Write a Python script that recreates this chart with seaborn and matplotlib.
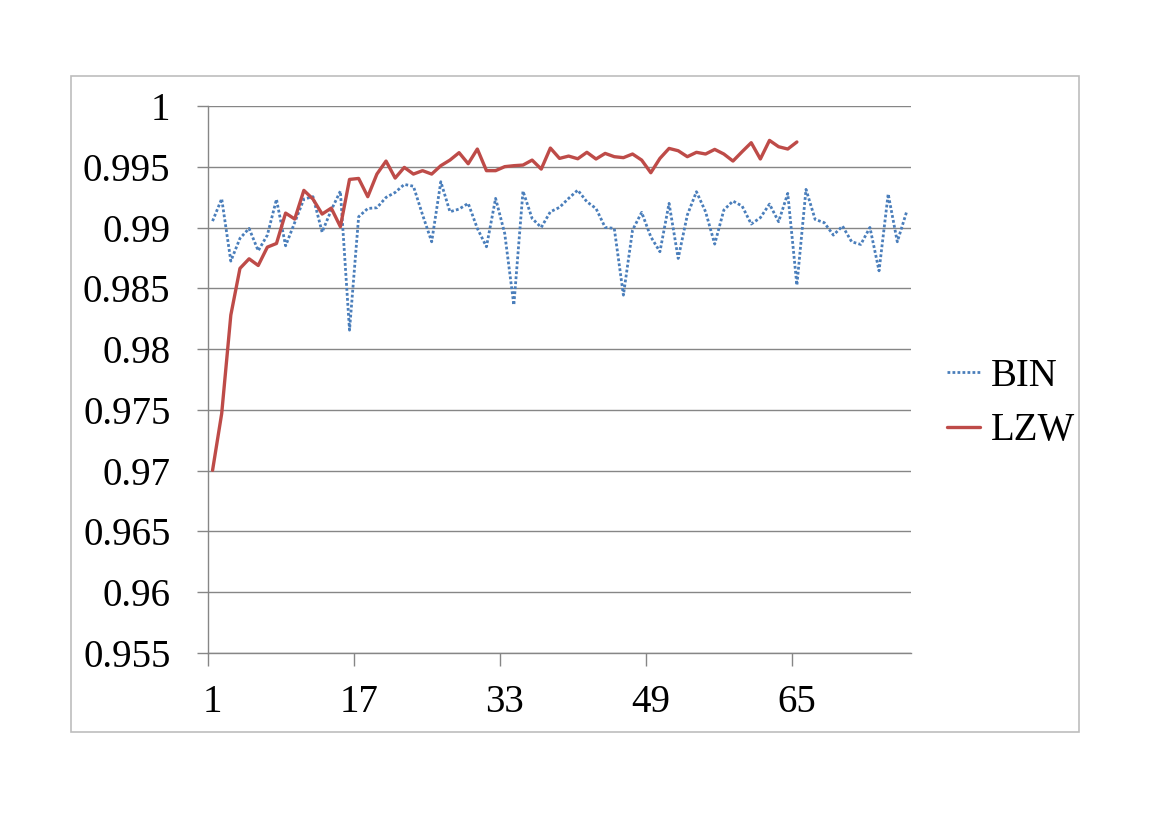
"""
plot.py — BIN vs LZW ratio per sample (Excel-style line chart)
"""

import numpy as np
import pandas as pd
import matplotlib
matplotlib.use("Agg")
import matplotlib.pyplot as plt
from matplotlib.patches import Rectangle
import seaborn as sns

BIN_VALUES = [
    0.99053, 0.99237, 0.98724, 0.98911, 0.98993, 0.98809, 0.98938, 0.99232,
    0.98850, 0.99042, 0.99234, 0.99254, 0.98962, 0.99144, 0.99300, 0.98156,
    0.99089, 0.99157, 0.99163, 0.99248, 0.99289, 0.99355, 0.99340, 0.99105,
    0.98883, 0.99377, 0.99130, 0.99152, 0.99199, 0.98993, 0.98842, 0.99240,
    0.98951, 0.98362, 0.99300, 0.99075, 0.99001, 0.99130, 0.99166, 0.99240,
    0.99308, 0.99212, 0.99157, 0.99001, 0.98993, 0.98444, 0.98979, 0.99125,
    0.98924, 0.98801, 0.99199, 0.98746, 0.99103, 0.99295, 0.99130, 0.98864,
    0.99144, 0.99218, 0.99177, 0.99029, 0.99081, 0.99193, 0.99048, 0.99281,
    0.98526, 0.99314, 0.99067, 0.99040, 0.98938, 0.99012, 0.98883, 0.98861,
    0.99001, 0.98644, 0.99276, 0.98883, 0.99125,
]
LZW_VALUES = [
    0.97003, 0.97470, 0.98280, 0.98664, 0.98743, 0.98688, 0.98839, 0.98869,
    0.99119, 0.99070, 0.99306, 0.99234, 0.99111, 0.99160, 0.99007, 0.99396,
    0.99404, 0.99254, 0.99440, 0.99547, 0.99407, 0.99495, 0.99440, 0.99468,
    0.99440, 0.99509, 0.99555, 0.99616, 0.99525, 0.99646, 0.99468, 0.99468,
    0.99501, 0.99509, 0.99514, 0.99555, 0.99481, 0.99654, 0.99569, 0.99588,
    0.99566, 0.99619, 0.99564, 0.99610, 0.99583, 0.99575, 0.99605, 0.99555,
    0.99451, 0.99569, 0.99651, 0.99632, 0.99583, 0.99619, 0.99605, 0.99643,
    0.99605, 0.99547, 0.99624, 0.99698, 0.99564, 0.99717, 0.99665, 0.99646,
    0.99704,
]
SERIES_NAMES = ["BIN", "LZW"]
X_TICKS = [1, 17, 33, 49, 65]
Y_TICKS = [0.955, 0.96, 0.965, 0.97, 0.975, 0.98, 0.985, 0.99, 0.995, 1.0]
Y_TICK_LABELS = ["0.955", "0.96", "0.965", "0.97", "0.975", "0.98",
                 "0.985", "0.99", "0.995", "1"]

BLUE = "#4A7EBB"
RED = "#BE4B48"
GRID = "#868686"


def build_frame():
    bin_df = pd.DataFrame({"x": np.arange(1, len(BIN_VALUES) + 1),
                           "value": BIN_VALUES, "series": SERIES_NAMES[0]})
    lzw_df = pd.DataFrame({"x": np.arange(1, len(LZW_VALUES) + 1),
                           "value": LZW_VALUES, "series": SERIES_NAMES[1]})
    return bin_df, lzw_df


def main():
    sns.set_style("white")
    plt.rcParams["font.family"] = ["Liberation Serif", "DejaVu Serif"]
    plt.rcParams["text.color"] = "black"

    bin_df, lzw_df = build_frame()

    fig = plt.figure(figsize=(11.69, 8.26), dpi=100)
    ax = fig.add_axes([208 / 1169, 1 - 653 / 826,
                       (911 - 208) / 1169, (653 - 106) / 826])

    # chart-area border like the Excel frame
    fig.patches.append(Rectangle((70.5 / 1169, 1 - 731.7 / 826),
                                 (1079 - 70.5) / 1169, (731.7 - 75.7) / 826,
                                 transform=fig.transFigure, fill=False,
                                 edgecolor="#BDBDBD", linewidth=1.2))

    sns.lineplot(data=bin_df, x="x", y="value", ax=ax, color=BLUE,
                 linewidth=2.0, linestyle=(0, (1, 0.8)), label="BIN")
    sns.lineplot(data=lzw_df, x="x", y="value", ax=ax, color=RED,
                 linewidth=2.4, label="LZW")

    ax.set_xlim(0.5, len(BIN_VALUES) + 0.5)
    ax.set_ylim(Y_TICKS[0], Y_TICKS[-1])
    ax.set_xlabel("")
    ax.set_ylabel("")

    ax.set_yticks(Y_TICKS)
    ax.set_yticklabels(Y_TICK_LABELS, fontsize=28)
    ax.tick_params(axis="y", direction="out", length=8, width=1,
                   color=GRID, labelcolor="black", pad=19, left=True)
    ax.yaxis.grid(True, color=GRID, linewidth=1)
    ax.xaxis.grid(False)

    ax.set_xticks(X_TICKS)
    ax.set_xticklabels([str(t) for t in X_TICKS], fontsize=28)
    ax.set_xticks([t - 0.5 for t in X_TICKS], minor=True)
    ax.tick_params(axis="x", which="major", length=0, pad=22,
                   labelcolor="black")
    ax.tick_params(axis="x", which="minor", direction="out", length=9,
                   width=1, color=GRID, bottom=True)

    for side in ["top", "right"]:
        ax.spines[side].set_visible(False)
    for side in ["left", "bottom"]:
        ax.spines[side].set_color(GRID)
        ax.spines[side].set_linewidth(1)

    ax.legend(loc="center left", bbox_to_anchor=(947 / 1169, 1 - 403.5 / 826),
              bbox_transform=fig.transFigure, frameon=False, fontsize=28,
              handlelength=0.85, handletextpad=0.28, labelspacing=0.45,
              borderpad=0, borderaxespad=0)

    fig.savefig("out.png", dpi=100)
    plt.close(fig)


if __name__ == "__main__":
    main()
